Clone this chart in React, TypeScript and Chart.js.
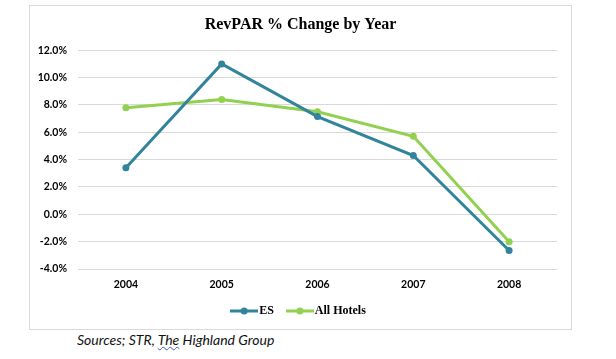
import React, { useEffect, useRef } from "react";
import { Chart, registerables } from "chart.js";

Chart.register(...registerables);

const categories = ["2004", "2005", "2006", "2007", "2008"];
const esValues = [3.4, 11.0, 7.15, 4.3, -2.65];
const allHotelsValues = [7.8, 8.4, 7.5, 5.7, -2.0];
const seriesNames = ["ES", "All Hotels"];
const yMin = -4;
const yMax = 12;
const yStep = 2;
const titleText = "RevPAR % Change by Year";

const ES_COLOR = "#31849B";
const AH_COLOR = "#92D050";

function makeMarker(color: string): HTMLCanvasElement {
  const c = document.createElement("canvas");
  c.width = 28;
  c.height = 10;
  const ctx = c.getContext("2d")!;
  ctx.strokeStyle = color;
  ctx.lineWidth = 3;
  ctx.beginPath();
  ctx.moveTo(0, 5);
  ctx.lineTo(28, 5);
  ctx.stroke();
  ctx.fillStyle = color;
  ctx.beginPath();
  ctx.arc(14, 5, 3.5, 0, Math.PI * 2);
  ctx.fill();
  return c;
}

export default function App() {
  const ref = useRef<HTMLCanvasElement | null>(null);

  useEffect(() => {
    if (!ref.current) return;
    const markers = [makeMarker(ES_COLOR), makeMarker(AH_COLOR)];
    const chart = new Chart(ref.current, {
      type: "line",
      data: {
        labels: categories,
        datasets: [
          {
            label: seriesNames[0],
            data: esValues,
            borderColor: ES_COLOR,
            backgroundColor: ES_COLOR,
            borderWidth: 3,
            pointRadius: 3.5,
            pointBackgroundColor: ES_COLOR,
            pointBorderWidth: 0,
            tension: 0,
            yAxisID: "y",
          },
          {
            label: seriesNames[1],
            data: allHotelsValues,
            borderColor: AH_COLOR,
            backgroundColor: AH_COLOR,
            borderWidth: 3,
            pointRadius: 3.5,
            pointBackgroundColor: AH_COLOR,
            pointBorderWidth: 0,
            tension: 0,
            yAxisID: "y",
          },
        ],
      },
      options: {
        responsive: false,
        animation: false,
        layout: { padding: { left: 0, right: 0, top: 0, bottom: 2 } },
        plugins: {
          title: {
            display: true,
            text: titleText,
            color: "#000",
            font: { family: "'Liberation Serif', 'Times New Roman', serif", size: 16, weight: "bold" },
            padding: { top: 9, bottom: 16 },
          },
          legend: {
            position: "bottom",
            labels: {
              usePointStyle: true,
              pointStyleWidth: 18,
              padding: 17,
              color: "#000",
              font: { family: "'Liberation Serif', 'Times New Roman', serif", size: 12, weight: "bold" },
              generateLabels: (ch: any) =>
                ch.data.datasets.map((ds: any, i: number) => ({
                  text: ds.label,
                  fillStyle: ds.borderColor,
                  strokeStyle: ds.borderColor,
                  lineWidth: 0,
                  pointStyle: markers[i],
                  hidden: false,
                  datasetIndex: i,
                  fontColor: "#000",
                })),
            },
          },
          tooltip: { enabled: false },
        },
        scales: {
          x: {
            offset: true,
            grid: { display: false, drawTicks: false },
            border: { display: false },
            ticks: {
              padding: 9,
              color: "#000",
              font: { family: "Lato, sans-serif", size: 10.5, weight: "bold" },
            },
            afterFit: (s: any) => {
              s.height = 19;
            },
          },
          y: {
            min: yMin,
            max: yMax,
            grid: { color: "#d9d9d9", lineWidth: 1, drawTicks: false },
            border: { display: false },
            ticks: {
              stepSize: yStep,
              padding: 11,
              color: "#000",
              font: { family: "Lato, sans-serif", size: 10.5, weight: "bold" },
              callback: (v: any) => Number(v).toFixed(1) + "%",
            },
            afterFit: (s: any) => {
              s.width = 48;
            },
          },
          yRightSpace: {
            type: "linear",
            position: "right",
            grid: { display: false, drawTicks: false },
            border: { display: false },
            ticks: { display: false },
            afterFit: (s: any) => {
              s.width = 14;
            },
          },
        },
      },
    });
    return () => chart.destroy();
  }, []);

  return (
    <div>
      <div
        style={{
          position: "absolute",
          left: 29,
          top: 5,
          width: 543,
          height: 325,
          boxSizing: "border-box",
          border: "1px solid #d9d9d9",
          background: "#fff",
        }}
      >
        <canvas ref={ref} width={541} height={323} style={{ display: "block", width: 541, height: 323 }} />
      </div>
      <div
        style={{
          position: "absolute",
          left: 77,
          top: 331,
          fontFamily: "Lato, sans-serif",
          fontStyle: "italic",
          fontSize: 14,
          lineHeight: "18px",
          color: "#111",
          whiteSpace: "nowrap",
        }}
      >
        Sources; STR,{" "}
        <span style={{ textDecoration: "underline wavy #3b5fc4", textDecorationThickness: 1 }}>The</span> Highland Group
      </div>
    </div>
  );
}
